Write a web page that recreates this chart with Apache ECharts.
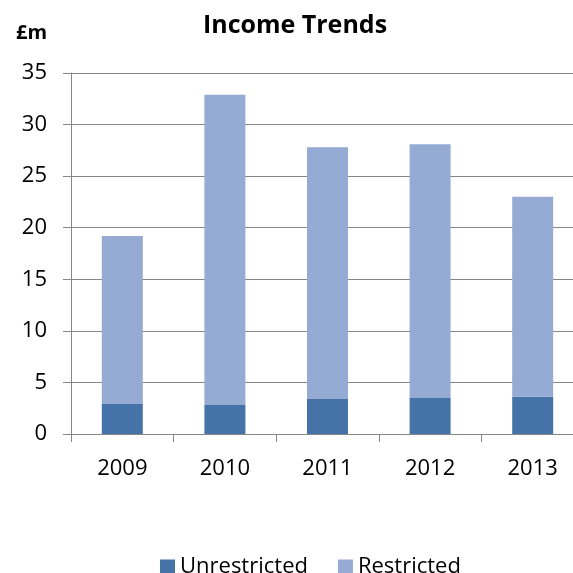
<!DOCTYPE html>
<html>
<head>
<meta charset="utf-8">
<script src="https://cdn.jsdelivr.net/npm/echarts@6/dist/echarts.min.js"></script>
<style>
  html, body { margin: 0; padding: 0; background: #fff; }
  #chart { width: 573px; height: 573px; }
</style>
</head>
<body>
<div id="chart"></div>
<script>
const years = ['2009', '2010', '2011', '2012', '2013'];
const unrestricted = [2.9, 2.8, 3.4, 3.5, 3.6];
const restricted = [16.3, 30.1, 24.4, 24.6, 19.4];
const yTicks = [0, 5, 10, 15, 20, 25, 30, 35];

const font = '"Open Sans", "Noto Sans", sans-serif';
const chart = echarts.init(document.getElementById('chart'));

chart.setOption({
  animation: false,
  title: [
    { text: 'Income Trends', left: 290, top: 8, textAlign: 'center',
      textStyle: { fontFamily: font, fontSize: 25, fontWeight: 'bold', color: '#000' } },
    { text: '£m', left: 11, top: 18,
      textStyle: { fontFamily: font, fontSize: 20, fontWeight: 'bold', color: '#000' } }
  ],
  legend: {
    top: 551, left: 155, itemWidth: 15, itemHeight: 15, itemGap: 30,
    icon: 'rect',
    textStyle: { fontFamily: font, fontSize: 22, color: '#000' },
    data: ['Unrestricted', 'Restricted']
  },
  grid: { left: 71, top: 73, width: 513, height: 361, outerBoundsMode: 'none' },
  xAxis: {
    type: 'category',
    data: years,
    axisLine: { lineStyle: { color: '#868686', width: 1 } },
    axisTick: { show: true, length: 8, lineStyle: { color: '#868686' } },
    axisLabel: { fontFamily: font, fontSize: 22, color: '#000', margin: 24 }
  },
  yAxis: {
    type: 'value',
    min: yTicks[0], max: yTicks[yTicks.length - 1], interval: 5,
    axisLine: { show: true, lineStyle: { color: '#868686', width: 1 } },
    axisTick: { show: true, length: 8, inside: false, lineStyle: { color: '#868686' } },
    axisLabel: { fontFamily: font, fontSize: 22, color: '#000', margin: 24 },
    splitLine: { show: true, lineStyle: { color: '#868686', width: 1 } }
  },
  series: [
    { name: 'Unrestricted', type: 'bar', stack: 'income', data: unrestricted,
      barWidth: 41, itemStyle: { color: '#4572A7' } },
    { name: 'Restricted', type: 'bar', stack: 'income', data: restricted,
      barWidth: 41, itemStyle: { color: '#95ABD3' } }
  ]
});
</script>
</body>
</html>
